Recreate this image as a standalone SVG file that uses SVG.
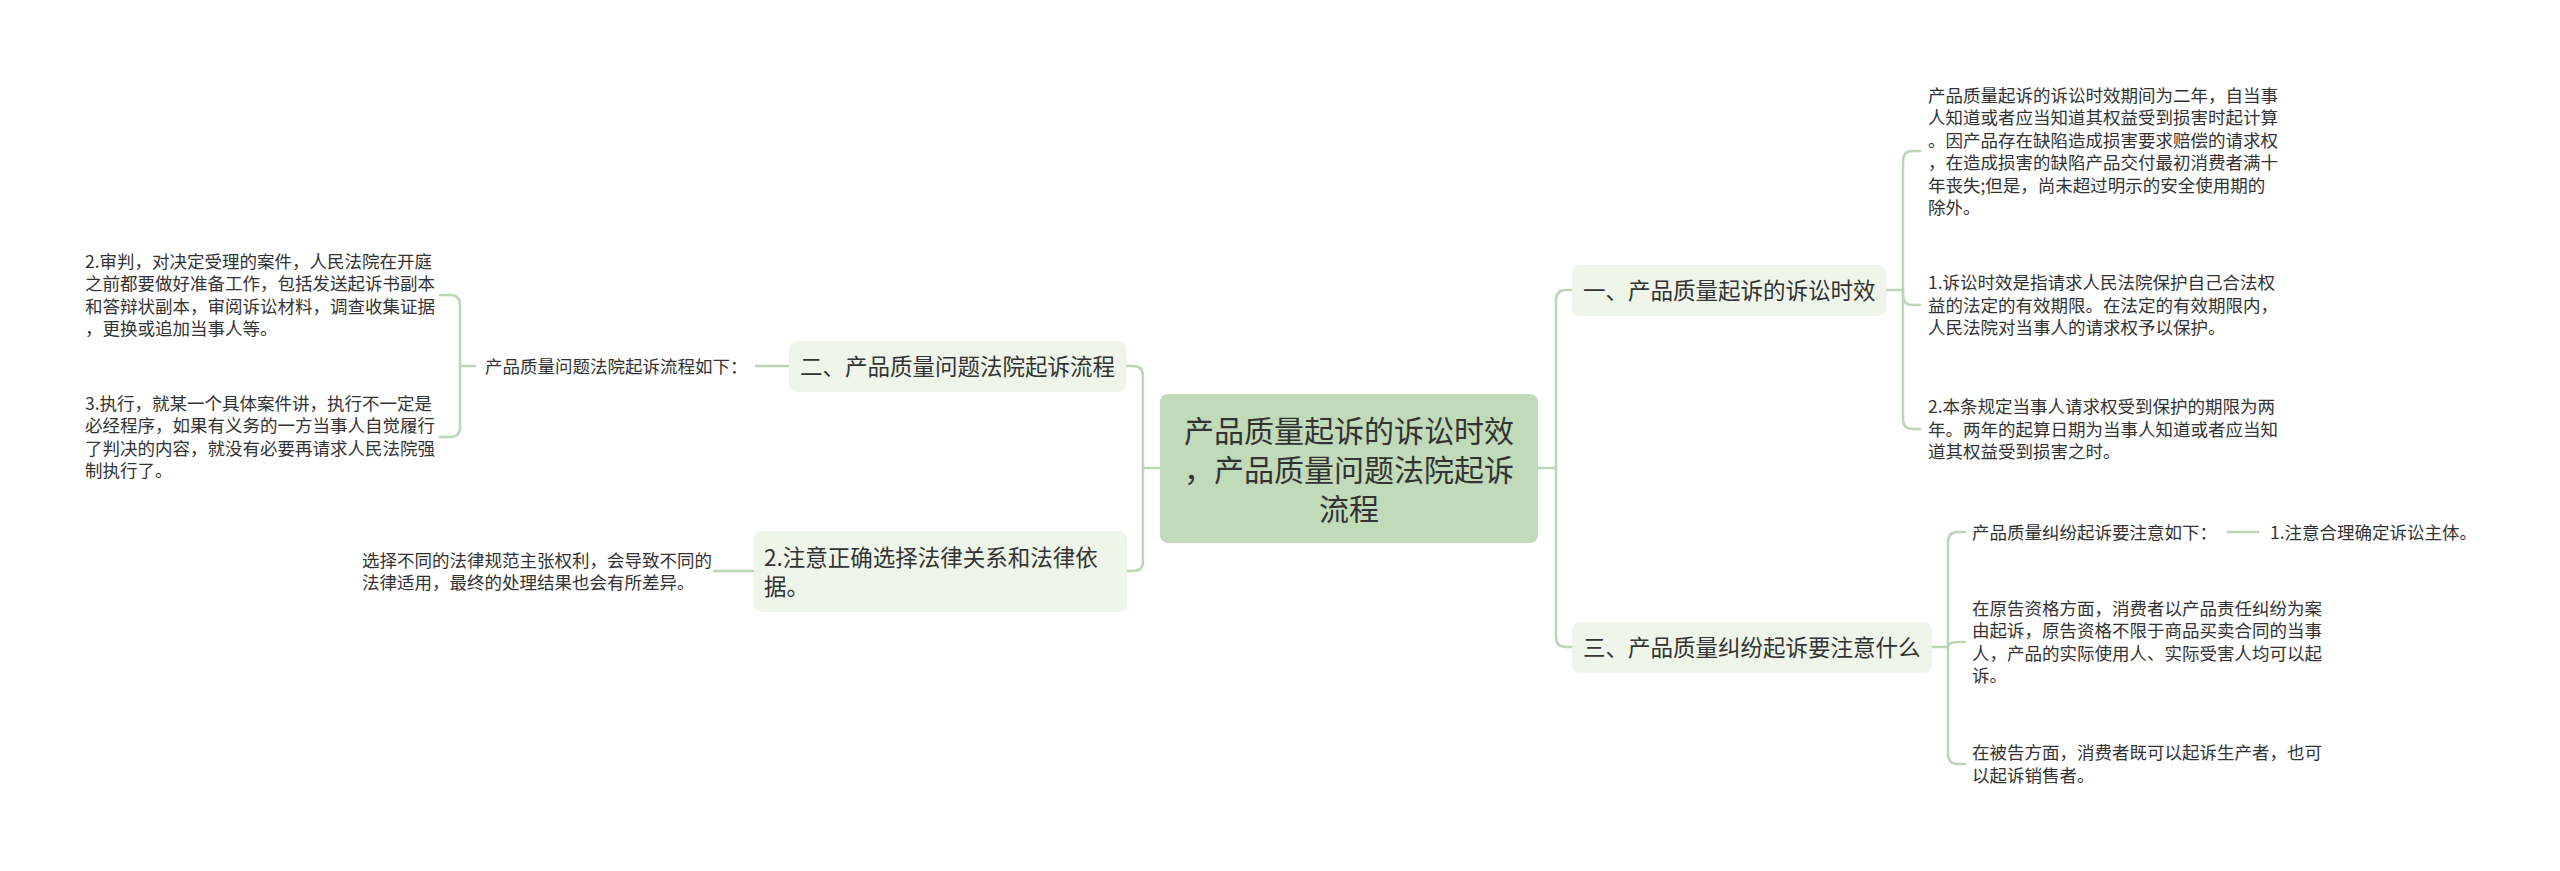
<svg xmlns="http://www.w3.org/2000/svg" width="2560" height="871" viewBox="0 0 2560 871">
<style>
text{font-family:"Noto Sans CJK SC","Microsoft YaHei",sans-serif;fill:#333333}
.leaf{font-size:17.5px}
.br{font-size:22.5px}
.ct{font-size:30px;text-anchor:middle}
.conn path{fill:none;stroke:#bcd5b4;stroke-width:2.5;stroke-linecap:round}
.bbox{fill:#eff5e8}
.cbox{fill:#c1dab9}
</style>
<rect width="2560" height="871" fill="#ffffff"/>
<g id="connectors" class="conn">
<path d="M1538 468 H1556 V300 Q1556 290 1566 290 H1572"/>
<path d="M1556 468 V637 Q1556 647 1566 647 H1572"/>
<path d="M1160 468 H1143 V376 Q1143 366 1133 366 H1126"/>
<path d="M1143 468 V561 Q1143 571 1133 571 H1127"/>
<path d="M1886 290 H1903 V161 Q1903 151 1913 151 H1920"/>
<path d="M1903 290 V295 Q1903 305 1913 305 H1920"/>
<path d="M1903 290 V419 Q1903 429 1913 429 H1920"/>
<path d="M1932 647 H1948 V542 Q1948 532 1958 532 H1965"/>
<path d="M1948 647 Q1948 642 1958 642 H1965"/>
<path d="M1948 647 V754 Q1948 764 1958 764 H1965"/>
<path d="M2228 532 H2258"/>
<path d="M789 366 H756"/>
<path d="M475 366 H460 V305 Q460 295 450 295 H440"/>
<path d="M460 366 V427 Q460 437 450 437 H440"/>
<path d="M754 571 H714"/>
</g>
<g id="center">
<rect class="cbox" x="1160" y="394" width="378" height="149" rx="8"/>
<text class="ct" x="1349" y="442">产品质量起诉的诉讼时效</text>
<text class="ct" x="1349" y="481">，产品质量问题法院起诉</text>
<text class="ct" x="1349" y="520">流程</text>
</g>
<g id="n1">
<rect class="bbox" x="1572" y="265" width="314" height="51" rx="8"/>
<text class="br" x="1583" y="299">一、产品质量起诉的诉讼时效</text>
</g>
<g id="n1a">
<text class="leaf" x="1928" y="101.5">产品质量起诉的诉讼时效期间为二年，自当事</text>
<text class="leaf" x="1928" y="124">人知道或者应当知道其权益受到损害时起计算</text>
<text class="leaf" x="1928" y="146.5">。因产品存在缺陷造成损害要求赔偿的请求权</text>
<text class="leaf" x="1928" y="169">，在造成损害的缺陷产品交付最初消费者满十</text>
<text class="leaf" x="1928" y="191.5">年丧失;但是，尚未超过明示的安全使用期的</text>
<text class="leaf" x="1928" y="214">除外。</text>
</g>
<g id="n1b">
<text class="leaf" x="1928" y="289">1.诉讼时效是指请求人民法院保护自己合法权</text>
<text class="leaf" x="1928" y="311.5">益的法定的有效期限。在法定的有效期限内，</text>
<text class="leaf" x="1928" y="334">人民法院对当事人的请求权予以保护。</text>
</g>
<g id="n1c">
<text class="leaf" x="1928" y="413">2.本条规定当事人请求权受到保护的期限为两</text>
<text class="leaf" x="1928" y="435.5">年。两年的起算日期为当事人知道或者应当知</text>
<text class="leaf" x="1928" y="458">道其权益受到损害之时。</text>
</g>
<g id="n3">
<rect class="bbox" x="1572" y="622" width="360" height="51" rx="8"/>
<text class="br" x="1583" y="656">三、产品质量纠纷起诉要注意什么</text>
</g>
<g id="n3a">
<text class="leaf" x="1972" y="538.5">产品质量纠纷起诉要注意如下：</text>
</g>
<g id="n3a1">
<text class="leaf" x="2270" y="538.5">1.注意合理确定诉讼主体。</text>
</g>
<g id="n3b">
<text class="leaf" x="1972" y="614.5">在原告资格方面，消费者以产品责任纠纷为案</text>
<text class="leaf" x="1972" y="637">由起诉，原告资格不限于商品买卖合同的当事</text>
<text class="leaf" x="1972" y="659.5">人，产品的实际使用人、实际受害人均可以起</text>
<text class="leaf" x="1972" y="682">诉。</text>
</g>
<g id="n3c">
<text class="leaf" x="1972" y="759">在被告方面，消费者既可以起诉生产者，也可</text>
<text class="leaf" x="1972" y="781.5">以起诉销售者。</text>
</g>
<g id="n2">
<rect class="bbox" x="789" y="341" width="337" height="51" rx="8"/>
<text class="br" x="800" y="375">二、产品质量问题法院起诉流程</text>
</g>
<g id="n2a">
<text class="leaf" x="485" y="372.5">产品质量问题法院起诉流程如下：</text>
</g>
<g id="n2a1">
<text class="leaf" x="85" y="267.5">2.审判，对决定受理的案件，人民法院在开庭</text>
<text class="leaf" x="85" y="290">之前都要做好准备工作，包括发送起诉书副本</text>
<text class="leaf" x="85" y="312.5">和答辩状副本，审阅诉讼材料，调查收集证据</text>
<text class="leaf" x="85" y="335">，更换或追加当事人等。</text>
</g>
<g id="n2a2">
<text class="leaf" x="85" y="409.5">3.执行，就某一个具体案件讲，执行不一定是</text>
<text class="leaf" x="85" y="432">必经程序，如果有义务的一方当事人自觉履行</text>
<text class="leaf" x="85" y="454.5">了判决的内容，就没有必要再请求人民法院强</text>
<text class="leaf" x="85" y="477">制执行了。</text>
</g>
<g id="n4">
<rect class="bbox" x="754" y="531" width="373" height="81" rx="8"/>
<text class="br" x="764" y="565.5">2.注意正确选择法律关系和法律依</text>
<text class="br" x="764" y="594.5">据。</text>
</g>
<g id="n4a">
<text class="leaf" x="362" y="566.5">选择不同的法律规范主张权利，会导致不同的</text>
<text class="leaf" x="362" y="589">法律适用，最终的处理结果也会有所差异。</text>
</g>
</svg>
